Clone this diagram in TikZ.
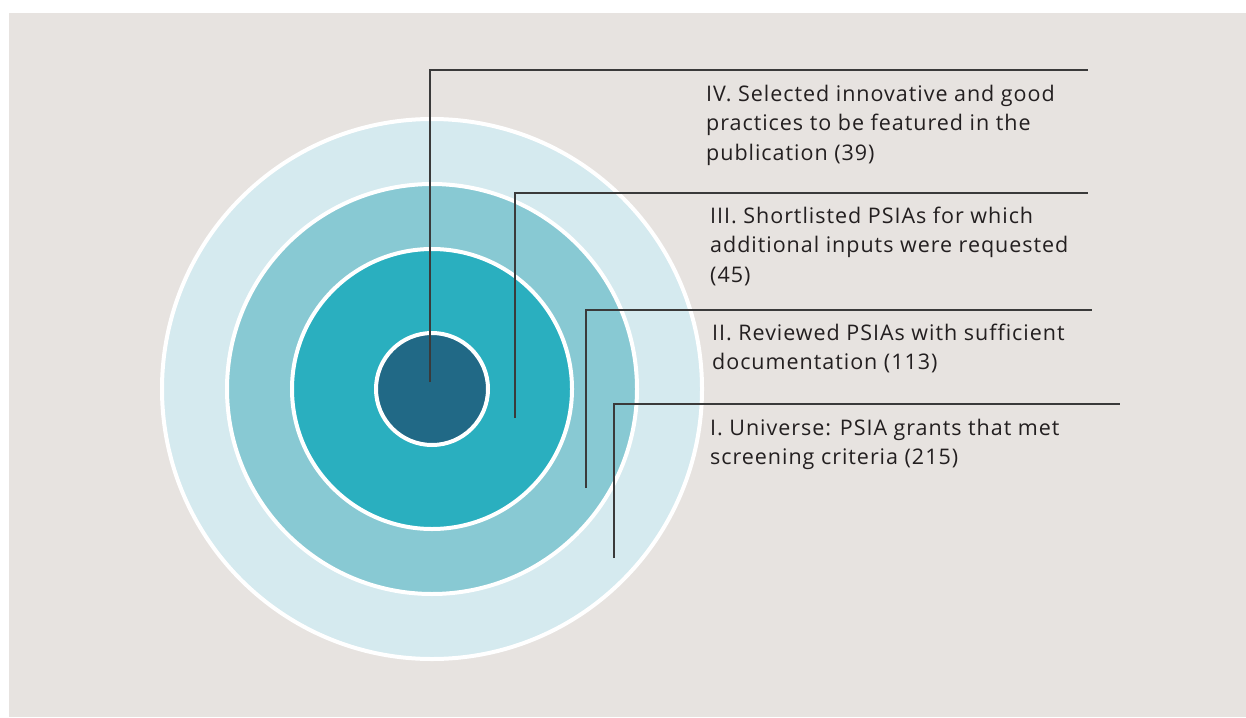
\documentclass[tikz,border=0pt]{standalone}
\usepackage{fontspec}
\setmainfont[Ligatures=NoCommon,LetterSpace=4.5]{Open Sans}
\definecolor{bg}{HTML}{E7E3E0}
\definecolor{ringA}{HTML}{D5EAEF}
\definecolor{ringB}{HTML}{88C9D3}
\definecolor{ringC}{HTML}{2AAFBF}
\definecolor{ringD}{HTML}{216986}
\definecolor{leader}{HTML}{3A3A3A}
\definecolor{txt}{HTML}{231F20}
\begin{document}
\begin{tikzpicture}[x=1pt,y=-1pt,
  ring/.style={draw=white,line width=4pt},
  leaderline/.style={draw=leader,line width=1.3pt},
  label/.style={anchor=north west,inner sep=0pt,align=left,text=txt,
    font=\fontsize{21.5}{29.7}\selectfont}]
\useasboundingbox (0,0) rectangle (1246,717);
\fill[white] (0,0) rectangle (1246,717);
\fill[bg] (9,13) rectangle (1246,717);
\fill[ringA,ring] (432,389) circle[radius=270];
\fill[ringB,ring] (432,389) circle[radius=205];
\fill[ringC,ring] (432,389) circle[radius=140];
\fill[ringD,ring] (432,389) circle[radius=56];
% labels
\node[label] (t4) at (706,84.5) {IV. Selected innovative and good\\practices to be featured in the\\publication (39)};
\node[label] (t3) at (710,206.5) {III. Shortlisted PSIAs for which\\additional inputs were requested\\(45)};
\node[label] (t2) at (712,323.5) {II. Reviewed PSIAs with sufficient\\documentation (113)};
\node[label] (t1) at (710,418.5) {I. Universe: PSIA grants that met\\screening criteria (215)};
% leader coordinates
\coordinate (s4) at (430,382); \coordinate (c4) at (430,70);  \coordinate (e4) at (1088,70);
\coordinate (s3) at (515,418); \coordinate (c3) at (515,193); \coordinate (e3) at (1088,193);
\coordinate (s2) at (586,488); \coordinate (c2) at (586,310); \coordinate (e2) at (1092,310);
\coordinate (s1) at (614,558); \coordinate (c1) at (614,404); \coordinate (e1) at (1120,404);
\draw[leaderline] (s4) -- (c4) -- (e4);
\draw[leaderline] (s3) -- (c3) -- (e3);
\draw[leaderline] (s2) -- (c2) -- (e2);
\draw[leaderline] (s1) -- (c1) -- (e1);
\end{tikzpicture}
\end{document}
